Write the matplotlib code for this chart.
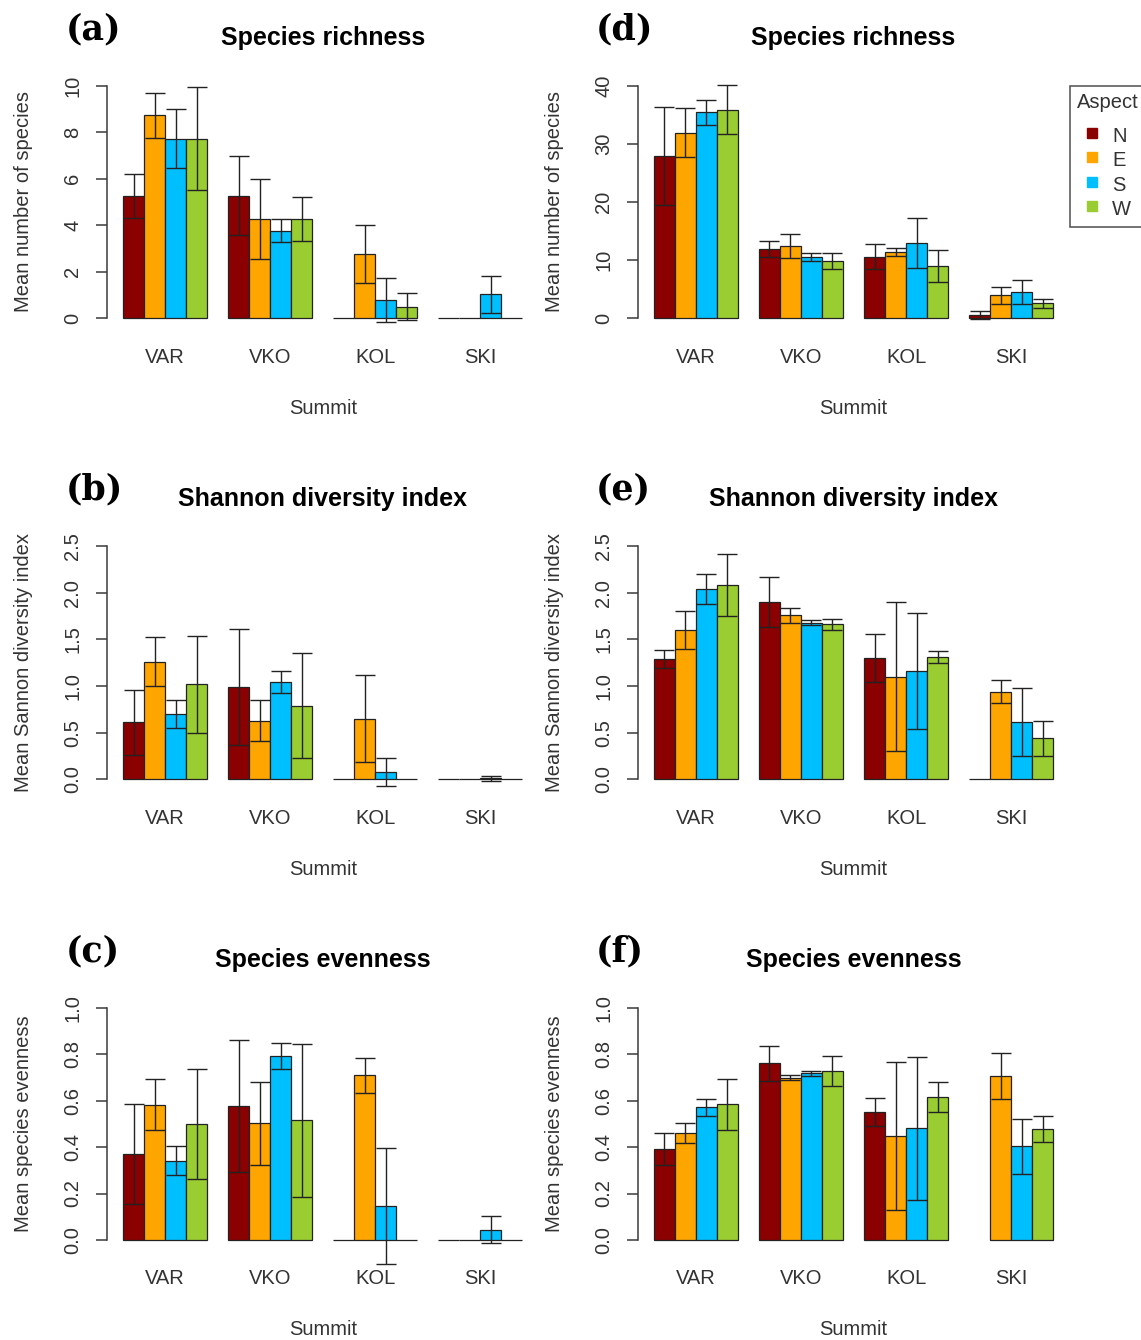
import matplotlib
matplotlib.use("Agg")
import matplotlib.pyplot as plt
from matplotlib.lines import Line2D
import numpy as np

plt.rcParams['font.family'] = ['Liberation Sans', 'DejaVu Sans']

summits = ["VAR", "VKO", "KOL", "SKI"]
aspects = ["N", "E", "S", "W"]
aspect_colors = ["#8B0000", "#FFA500", "#00BFFF", "#9ACD32"]

# rows = summits (VAR, VKO, KOL, SKI), columns = aspects (N, E, S, W)
rich_a = [[5.27, 8.73, 7.73, 7.73], [5.27, 4.27, 3.77, 4.27], [0, 2.77, 0.77, 0.5], [0, 0, 1.03, 0]]
rich_a_se = [[0.95, 0.97, 1.25, 2.2], [1.69, 1.7, 0.5, 0.96], [0, 1.25, 0.95, 0.58], [0, 0, 0.8, 0]]

shannon_b = [[0.61, 1.26, 0.70, 1.02], [0.99, 0.63, 1.04, 0.79], [0, 0.65, 0.08, 0], [0, 0, 0.01, 0]]
shannon_b_se = [[0.35, 0.26, 0.15, 0.52], [0.62, 0.22, 0.12, 0.56], [0, 0.465, 0.15, 0], [0, 0, 0.03, 0]]

even_c = [[0.37, 0.582, 0.341, 0.499], [0.577, 0.502, 0.793, 0.515], [0, 0.709, 0.148, 0], [0, 0, 0.045, 0]]
even_c_se = [[0.214, 0.11, 0.062, 0.237], [0.284, 0.18, 0.056, 0.33], [0, 0.076, 0.25, 0], [0, 0, 0.058, 0]]

rich_d = [[27.9, 31.9, 35.4, 35.9], [11.9, 12.4, 10.5, 9.9], [10.6, 11.4, 13.0, 9.0], [0.6, 3.95, 4.56, 2.55]]
rich_d_se = [[8.4, 4.2, 2.1, 4.25], [1.4, 2.1, 0.7, 1.4], [2.1, 0.7, 4.3, 2.7], [0.7, 1.45, 2.1, 0.75]]

shannon_e = [[1.29, 1.60, 2.04, 2.08], [1.90, 1.76, 1.68, 1.66], [1.30, 1.10, 1.16, 1.31], [0, 0.94, 0.61, 0.44]]
shannon_e_se = [[0.095, 0.2, 0.16, 0.33], [0.27, 0.08, 0.03, 0.055], [0.26, 0.80, 0.625, 0.06], [0, 0.12, 0.365, 0.185]]

even_f = [[0.393, 0.46, 0.571, 0.584], [0.76, 0.699, 0.717, 0.727], [0.55, 0.449, 0.481, 0.616], [np.nan, 0.706, 0.403, 0.477]]
even_f_se = [[0.068, 0.043, 0.036, 0.11], [0.075, 0.012, 0.01, 0.065], [0.06, 0.318, 0.308, 0.063], [0, 0.1, 0.117, 0.057]]

titles = ["Species richness", "Shannon diversity index", "Species evenness"]
ylabels = ["Mean number of species", "Mean Sannon diversity index", "Mean species evenness"]
yticks_rich_left = [0, 2, 4, 6, 8, 10]
yticks_rich_right = [0, 10, 20, 30, 40]
yticks_shannon = [0.0, 0.5, 1.0, 1.5, 2.0, 2.5]
yticks_even = [0.0, 0.2, 0.4, 0.6, 0.8, 1.0]

W, H = 1141, 1340
fig = plt.figure(figsize=(W / 100, H / 100), dpi=100)

col_x = [107.3, 638.0]
ax_w = 431.0
row_y0 = [318.3, 779.3, 1240.0]
row_ytop = [85.7, 546.0, 1007.7]

txt = '#333333'
dark = '#222222'

panels = [
    (0, 0, "(a)", rich_a, rich_a_se, yticks_rich_left, ["0", "2", "4", "6", "8", "10"]),
    (1, 0, "(b)", shannon_b, shannon_b_se, yticks_shannon, ["0.0", "0.5", "1.0", "1.5", "2.0", "2.5"]),
    (2, 0, "(c)", even_c, even_c_se, yticks_even, ["0.0", "0.2", "0.4", "0.6", "0.8", "1.0"]),
    (0, 1, "(d)", rich_d, rich_d_se, yticks_rich_right, ["0", "10", "20", "30", "40"]),
    (1, 1, "(e)", shannon_e, shannon_e_se, yticks_shannon, ["0.0", "0.5", "1.0", "1.5", "2.0", "2.5"]),
    (2, 1, "(f)", even_f, even_f_se, yticks_even, ["0.0", "0.2", "0.4", "0.6", "0.8", "1.0"]),
]

for row, col, letter, means, ses, yt, ytl in panels:
    ymax = yt[-1]
    y0, ytop = row_y0[row], row_ytop[row]
    span = y0 - ytop
    bot = y0 + 0.04 * span
    top = ytop - 0.04 * span
    xl = col_x[col]
    ax = fig.add_axes([xl / W, 1 - bot / H, ax_w / W, (bot - top) / H])
    ax.set_xlim(0.24, 20.76)
    ax.set_ylim(-0.04 * ymax, 1.04 * ymax)

    means = np.array(means, dtype=float)
    ses = np.array(ses, dtype=float)
    for g in range(4):
        for k in range(4):
            m = means[g, k]
            if np.isnan(m):
                continue
            left = 1 + 5 * g + k
            ax.bar(left, m, width=1, align='edge', color=aspect_colors[k],
                   edgecolor=dark, linewidth=0.9, zorder=2)
            e = ses[g, k]
            if e > 0:
                eb = ax.errorbar(left + 0.5, m, yerr=e, fmt='none', ecolor=dark,
                                 elinewidth=1.0, capsize=7.0, capthick=1.0, zorder=3)
                for art in eb.lines[1] + eb.lines[2]:
                    art.set_clip_on(False)

    for s in ['top', 'right', 'bottom']:
        ax.spines[s].set_visible(False)
    ax.spines['left'].set_bounds(0, ymax)
    ax.spines['left'].set_color('#3a3a3a')
    ax.spines['left'].set_linewidth(1.1)
    ax.set_yticks(yt)
    ax.set_yticklabels(ytl, rotation=90, va='center')
    ax.tick_params(axis='y', length=7.9, width=1.1, color='#3a3a3a', pad=10,
                   labelsize=14.5, labelcolor=txt)
    ax.set_xticks([3 + 5 * g for g in range(4)])
    ax.set_xticklabels(summits)
    ax.tick_params(axis='x', length=0, pad=14.5, labelsize=14.5, labelcolor=txt)
    ax.patch.set_alpha(0)

    cx = xl + ax_w / 2
    fig.text(cx / W, 1 - (top - 31) / H, titles[row], ha='center', va='baseline',
             fontsize=18, fontweight='bold', color='black')
    fig.text(cx / W, 1 - (bot + 86) / H, "Summit", ha='center', va='baseline',
             fontsize=14.5, color=txt)
    fig.text((xl - 84) / W, 1 - ((y0 + ytop) / 2) / H, ylabels[row], ha='center',
             va='center', rotation=90, fontsize=14.5, color=txt)
    fig.text((xl - 42) / W, 1 - (top - 37) / H, letter, ha='left', va='baseline',
             fontsize=25, fontweight='bold', family='DejaVu Serif', color='black')

handles = [Line2D([], [], marker='s', linestyle='none', markersize=6.5,
                  markerfacecolor=c, markeredgecolor=c) for c in aspect_colors]
leg = fig.legend(handles, aspects, title='Aspect', loc='upper left',
                 bbox_to_anchor=(1070 / W, 1 - 85.7 / H), borderaxespad=0,
                 frameon=True, fancybox=False, edgecolor=dark, fontsize=14.5,
                 title_fontsize=14.5, handlelength=1.5, handleheight=1.35,
                 handletextpad=0.25, borderpad=0.35, labelspacing=0.08,
                 alignment='left')
leg._legend_box.sep = 9.0
leg.get_frame().set_linewidth(1.1)
for t in leg.get_texts():
    t.set_color(txt)
leg.get_title().set_color(txt)

fig.savefig('out.png', dpi=100, facecolor='white')
